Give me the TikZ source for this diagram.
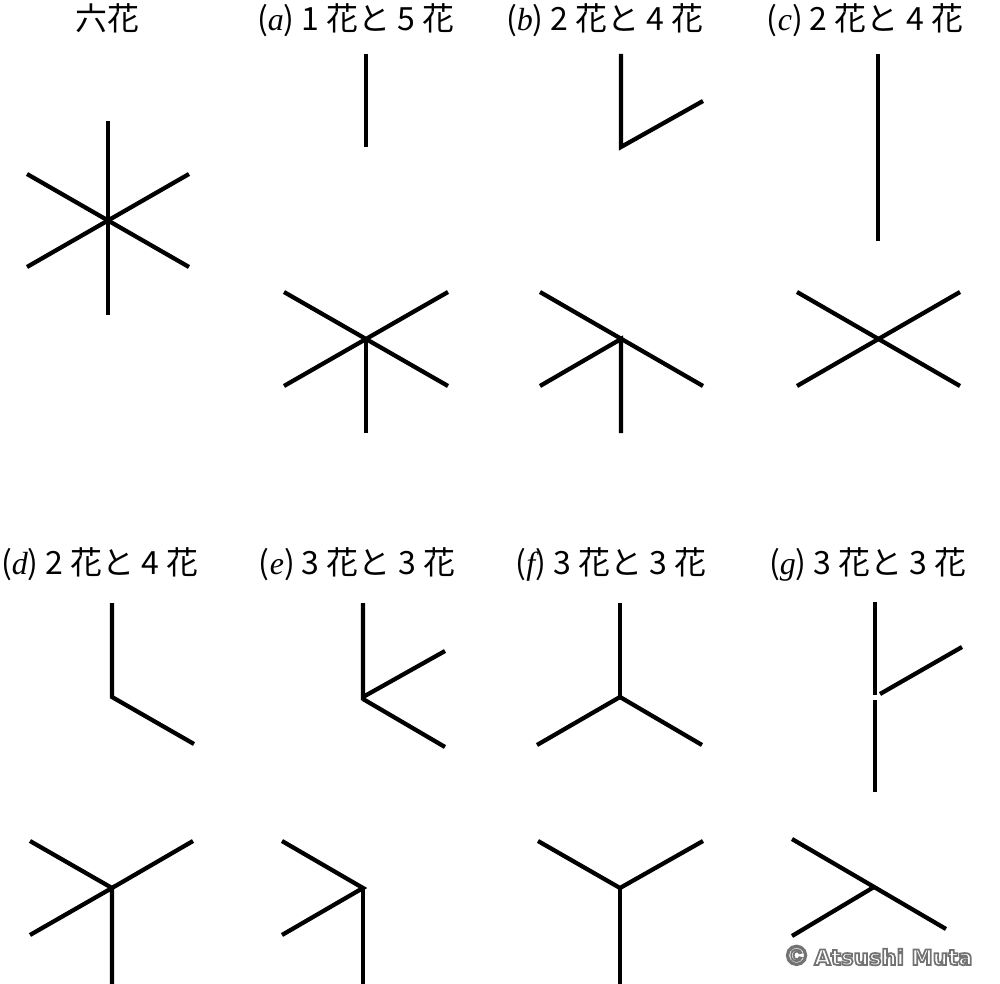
\documentclass[tikz,border=0pt]{standalone}
\usepackage{fontspec}
\setmainfont{Noto Sans CJK JP}
\newfontfamily\letterfont{Liberation Serif}
\newfontfamily\markfont{DejaVu Sans}
\newfontfamily\signfont{Liberation Sans}
\newcommand{\lab}[1]{({\letterfont\itshape #1})}
\newcommand{\outlined}[1]{\special{pdf:code q 2 Tr 1.3 w 0.45 0.45 0.45 RG}#1\special{pdf:code Q}}
\tikzset{every picture/.style={line width=0.75pt}}
\tikzset{arm/.style={line width=3.2pt}, title/.style={anchor=base, inner sep=0.75pt, font=\fontsize{24}{28}\selectfont}}

\begin{document}
\begin{tikzpicture}[x=0.75pt,y=0.75pt,yscale=-1,xscale=1]
\useasboundingbox (0,0) rectangle (1000,984);

%Shape: Six flower
\coordinate (c6) at (108,221);
\draw [arm] (c6) -- (108,121) ;
\draw [arm] (c6) -- (108,315) ;
\draw [arm] (27,174) -- (189,267) ;
\draw [arm] (27,267) -- (189,174) ;

%Straight Lines (a) top
\draw [arm] (366,54) -- (366,147) ;
%Straight Lines (a) bottom
\coordinate (ca) at (366,339);
\draw [arm] (284,292) -- (448,386) ;
\draw [arm] (284,386) -- (448,292) ;
\draw [arm] (ca) -- (366,433) ;

%Straight Lines (b) top
\draw [arm] (621,54) -- (621,147) -- (703,101) ;
%Straight Lines (b) bottom
\coordinate (cb) at (621,339);
\draw [arm] (540,292) -- (703,386) ;
\draw [arm] (540,386) -- (cb) -- (621,433) ;

%Straight Lines (c) top
\draw [arm] (878,54) -- (878,241) ;
%Straight Lines (c) bottom
\draw [arm] (797,292) -- (960,386) ;
\draw [arm] (960,292) -- (797,386) ;

%Straight Lines (d) top
\draw [arm] (112,603) -- (112,697) -- (194,744) ;
%Straight Lines (d) bottom
\coordinate (cd) at (112,888);
\draw [arm] (30,841) -- (cd) -- (193,841) ;
\draw [arm] (30,935) -- (cd) -- (112,984) ;

%Straight Lines (e) top
\coordinate (ce) at (363,697);
\draw [arm] (363,603) -- (ce) -- (445,651) ;
\draw [arm] (363,699) -- (445,747) ;
%Straight Lines (e) bottom
\coordinate (ce2) at (363,888);
\draw [arm] (282,841) -- (ce2) -- (282,935) ;
\draw [arm] (ce2) -- (363,984) ;

%Straight Lines (f) top
\coordinate (cf) at (620,697);
\draw [arm] (620,603) -- (cf) ;
\draw [arm] (537,745) -- (cf) -- (702,745) ;
%Straight Lines (f) bottom
\coordinate (cf2) at (620,888);
\draw [arm] (538,841) -- (cf2) -- (703,841) ;
\draw [arm] (cf2) -- (620,984) ;

%Straight Lines (g) top
\draw [arm] (875,602) -- (875,695) ;
\draw [arm] (875,700) -- (875,792) ;
\draw [arm] (880,694) -- (962,647) ;
%Straight Lines (g) bottom
\coordinate (cg) at (874,887);
\draw [arm] (792,839) -- (946,929) ;
\draw [arm] (cg) -- (792,936) ;

% Text Node
\node [title] (t6) at (107,31) {六花};
% Text Node
\node [title] (ta) at (356,31) {\lab{a} 1 花と 5 花};
% Text Node
\node [title] (tb) at (605,31) {\lab{b} 2 花と 4 花};
% Text Node
\node [title] (tc) at (865,31) {\lab{c} 2 花と 4 花};
% Text Node
\node [title] (td) at (100,574) {\lab{d} 2 花と 4 花};
% Text Node
\node [title] (te) at (357,574) {\lab{e} 3 花と 3 花};
% Text Node
\node [title] (tf) at (611,574) {\lab{f} 3 花と 3 花};
% Text Node
\node [title] (tg) at (868,574) {\lab{g} 3 花と 3 花};

% Text Node
\node [anchor=base east, inner sep=0pt, text=white, font=\markfont\bfseries\fontsize{16}{20}\selectfont] (copy) at (973,965) {\outlined{{\signfont\fontsize{21}{20}\selectfont ©} Atsushi Muta}};

\end{tikzpicture}
\end{document}
